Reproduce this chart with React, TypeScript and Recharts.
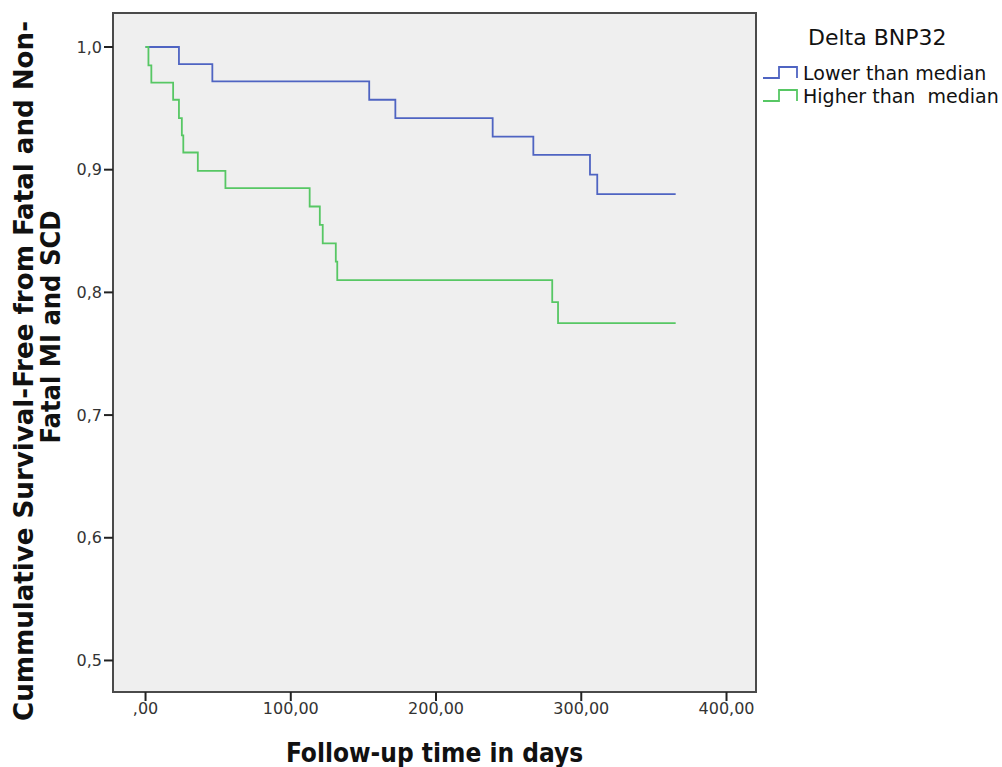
import { LineChart, Line, XAxis, YAxis, ReferenceArea } from "recharts";

// Kaplan-Meier steps
const lowerDays = [0, 23, 46, 154, 172, 239, 267, 306, 311, 365];
const lowerSurv = [1.0, 0.986, 0.972, 0.957, 0.942, 0.927, 0.912, 0.896, 0.880, 0.880];

const higherDays = [0, 2, 4, 19, 23, 25, 26, 36, 55, 113, 120, 122, 131, 132, 280, 284, 365];
const higherSurv = [1.0, 0.985, 0.971, 0.957, 0.942, 0.928, 0.914, 0.899, 0.885, 0.870, 0.855, 0.840, 0.825, 0.810, 0.792, 0.775, 0.775];

const xTicks = [0, 100, 200, 300, 400];
const yTicks = [0.5, 0.6, 0.7, 0.8, 0.9, 1.0];

const seriesNames = ["Lower than median", "Higher than  median"];
const seriesColors = ["#4f64c2", "#57c764"];

const lowerData = lowerDays.map((d, i) => ({ day: d, surv: lowerSurv[i] }));
const higherData = higherDays.map((d, i) => ({ day: d, surv: higherSurv[i] }));

const fmtX = (v: number) => (v === 0 ? ",00" : `${v},00`);
const fmtY = (v: number) => v.toFixed(1).replace(".", ",");

const labelFont = "'DejaVu Sans Condensed', 'DejaVu Sans', sans-serif";
const tickFont = "'DejaVu Sans', sans-serif";

const YTitle = () => (
  <g fontFamily={labelFont} fontWeight="bold" fontSize={27} fill="#111">
    <text transform="translate(33, 371) rotate(-90)" textAnchor="middle" textLength={700} lengthAdjust="spacingAndGlyphs">
      Cummulative Survival-Free from Fatal and Non-
    </text>
    <text transform="translate(60, 327) rotate(-90)" textAnchor="middle">
      Fatal MI and SCD
    </text>
  </g>
);

const LegendBox = () => (
  <div style={{ position: "absolute", left: 762, top: 25, fontFamily: tickFont, color: "#111" }}>
    <div style={{ fontSize: 22, marginLeft: 46, marginBottom: 11 }}>Delta BNP32</div>
    {seriesNames.map((name, i) => (
      <div key={name} style={{ display: "flex", alignItems: "center", height: 23, fontSize: 19, whiteSpace: "pre" }}>
        <svg width={41} height={20} style={{ flex: "none" }}>
          <path d="M1 15 H17 V4 H35 V15" fill="none" stroke={seriesColors[i]} strokeWidth={1.8} />
        </svg>
        <span>{name}</span>
      </div>
    ))}
  </div>
);

export default function App() {
  return (
    <div style={{ position: "absolute", left: 0, top: 0, width: 1002, height: 767, background: "#fff" }}>
      <LineChart
        width={1002}
        height={767}
        margin={{ top: 13, right: 246, bottom: 0, left: 0 }}
      >
        <ReferenceArea
          x1={-22.4}
          x2={420.3}
          y1={0.4743}
          y2={1.0277}
          fill="#efefef"
          fillOpacity={1}
          stroke="#4a4a4a"
          strokeWidth={2}
          ifOverflow="visible"
        />
        <XAxis
          dataKey="day"
          type="number"
          domain={[-22.4, 420.3]}
          ticks={xTicks}
          tickFormatter={fmtX}
          allowDuplicatedCategory={false}
          height={75}
          axisLine={false}
          tickSize={9}
          tickLine={{ stroke: "#222", strokeWidth: 2 }}
          tick={{ fill: "#333", fontSize: 16, fontFamily: tickFont }}
          label={{
            value: "Follow-up time in days",
            position: "insideBottom",
            offset: 5,
            style: { fontFamily: labelFont, fontWeight: "bold", fontSize: 26, fill: "#111" },
          }}
        />
        <YAxis
          type="number"
          domain={[0.4743, 1.0277]}
          ticks={yTicks}
          tickFormatter={fmtY}
          width={113}
          axisLine={false}
          tickSize={9}
          tickLine={{ stroke: "#222", strokeWidth: 2 }}
          tick={{ fill: "#333", fontSize: 16, fontFamily: tickFont }}
          label={{ content: () => <YTitle /> }}
        />
        <Line
          data={lowerData}
          dataKey="surv"
          type="stepAfter"
          stroke={seriesColors[0]}
          strokeWidth={1.8}
          dot={false}
          isAnimationActive={false}
        />
        <Line
          data={higherData}
          dataKey="surv"
          type="stepAfter"
          stroke={seriesColors[1]}
          strokeWidth={1.8}
          dot={false}
          isAnimationActive={false}
        />
      </LineChart>
      <LegendBox />
    </div>
  );
}
